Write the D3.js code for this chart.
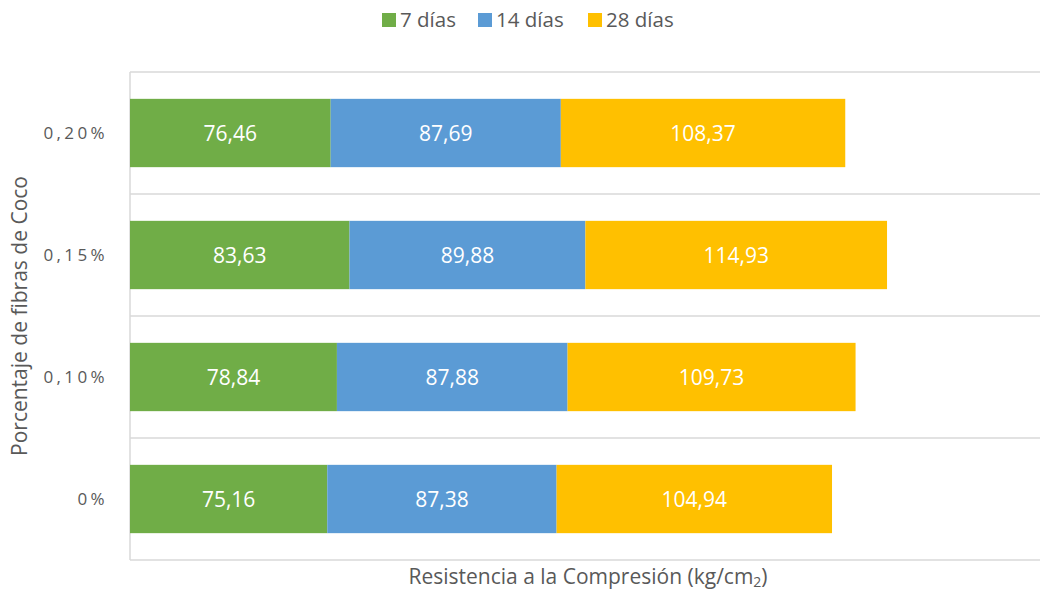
<!DOCTYPE html>
<html>
<head>
<meta charset="utf-8">
<script src="https://cdn.jsdelivr.net/npm/d3@7"></script>
<style>
  body { margin: 0; background: #fff; }
  text { font-family: "Open Sans", sans-serif; }
</style>
</head>
<body>
<div id="chart"></div>
<script>
// categories from bottom to top
const categories = ["0%", "0,10%", "0,15%", "0,20%"];
const seriesNames = ["7 días", "14 días", "28 días"];
const dias7 = [75.16, 78.84, 83.63, 76.46];
const dias14 = [87.38, 87.88, 89.88, 87.69];
const dias28 = [104.94, 109.73, 114.93, 108.37];
const xMax = 350;

const colors = ["#70AD47", "#5B9BD5", "#FFC000"];

const width = 1040, height = 593;
const margin = { top: 72, right: 0, bottom: 33, left: 130 };

// build rows for stack
const rows = categories.map((c, i) => ({ cat: c, s0: dias7[i], s1: dias14[i], s2: dias28[i] }));
const stack = d3.stack().keys(["s0", "s1", "s2"])(rows);

const svg = d3.select("#chart").append("svg")
  .attr("width", width).attr("height", height);

const x = d3.scaleLinear().domain([0, xMax]).range([margin.left, margin.left + 918.6]);
const y = d3.scaleBand()
  .domain(categories.slice().reverse())
  .range([margin.top, height - margin.bottom])
  .paddingInner(0.44).paddingOuter(0.22);

const y0 = y.range()[0], step = y.step();

// horizontal gridlines at category boundaries
svg.append("g").selectAll("line")
  .data(d3.range(categories.length + 1))
  .join("line")
  .attr("x1", margin.left).attr("x2", width)
  .attr("y1", i => y0 + i * step).attr("y2", i => y0 + i * step)
  .attr("stroke", "#D9D9D9").attr("stroke-width", 1.5);

// left axis line
svg.append("line")
  .attr("x1", margin.left).attr("x2", margin.left)
  .attr("y1", y0).attr("y2", y0 + categories.length * step)
  .attr("stroke", "#D9D9D9").attr("stroke-width", 1.5);

// bars
const fmt = v => d3.format(".2f")(v).replace(".", ",");
stack.forEach((layer, k) => {
  const g = svg.append("g");
  g.selectAll("rect").data(layer).join("rect")
    .attr("x", d => x(d[0]))
    .attr("width", d => x(d[1]) - x(d[0]))
    .attr("y", d => y(d.data.cat))
    .attr("height", y.bandwidth())
    .attr("fill", colors[k]);
  g.selectAll("text").data(layer).join("text")
    .attr("x", d => (x(d[0]) + x(d[1])) / 2)
    .attr("y", d => y(d.data.cat) + y.bandwidth() / 2)
    .attr("dy", "0.36em")
    .attr("text-anchor", "middle")
    .attr("fill", "#fff")
    .attr("font-size", 21)
    .text(d => fmt(d[1] - d[0]));
});

// category labels
svg.append("g").selectAll("text")
  .data(categories).join("text")
  .attr("x", 108)
  .attr("y", d => y(d) + y.bandwidth() / 2)
  .attr("dy", "0.36em")
  .attr("text-anchor", "end")
  .attr("fill", "#595959")
  .attr("font-size", 17)
  .attr("letter-spacing", 3.4)
  .text(d => d);

// y axis title
svg.append("text")
  .attr("transform", `translate(27,${y0 + categories.length * step / 2}) rotate(-90)`)
  .attr("text-anchor", "middle")
  .attr("fill", "#595959")
  .attr("font-size", 21)
  .text("Porcentaje de fibras de Coco");

// x axis title
const xt = svg.append("text")
  .attr("x", 588).attr("y", 584)
  .attr("text-anchor", "middle")
  .attr("fill", "#595959")
  .attr("font-size", 21);
xt.append("tspan").text("Resistencia a la Compresión (kg/cm");
xt.append("tspan").attr("font-size", 14).attr("dy", 3).text("2");
xt.append("tspan").attr("dy", -3).text(")");

// legend
const legendX = [382, 478, 588];
const lg = svg.append("g").selectAll("g").data(seriesNames).join("g")
  .attr("transform", (d, i) => `translate(${legendX[i]},13)`);
lg.append("rect").attr("width", 14).attr("height", 14).attr("fill", (d, i) => colors[i]);
lg.append("text").attr("x", 18).attr("y", 7).attr("dy", "0.36em")
  .attr("fill", "#595959").attr("font-size", 20.5).text(d => d);
</script>
</body>
</html>
